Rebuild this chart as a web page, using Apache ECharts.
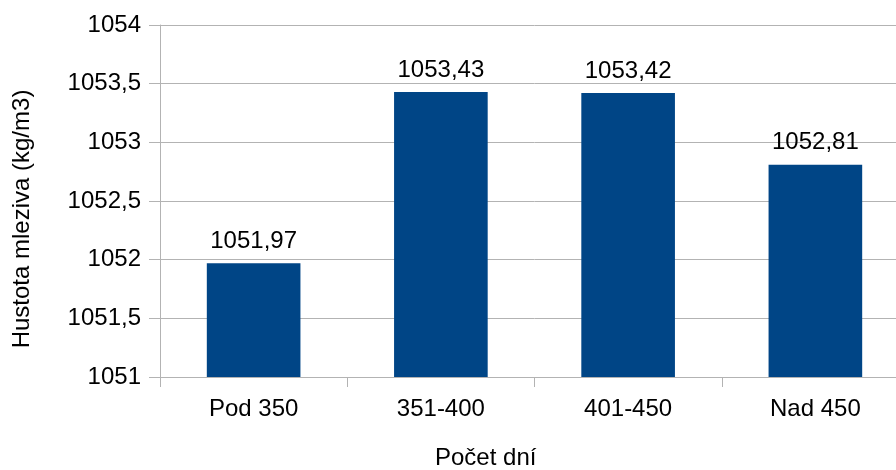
<!DOCTYPE html>
<html>
<head>
<meta charset="utf-8">
<script src="https://cdn.jsdelivr.net/npm/echarts@6/dist/echarts.min.js"></script>
<style>
  html, body { margin: 0; padding: 0; background: #fff; overflow: hidden; }
  #chart { width: 912px; height: 470px; }
</style>
</head>
<body>
<div id="chart"></div>
<script>
// Milk density by number of days
const categories = ['Pod 350', '351-400', '401-450', 'Nad 450'];
const density = [1051.97, 1053.43, 1053.42, 1052.81];
const yMin = 1051;
const yMax = 1054;
const yStep = 0.5;
const xTitle = 'Počet dní';
const yTitle = 'Hustota mleziva (kg/m3)';

const font = '"Liberation Sans", Arial, sans-serif';
const gray = '#b3b3b3';
const comma = v => String(v).replace('.', ',');

// The plot runs slightly past the right edge of the visible 896px window
const chart = echarts.init(document.getElementById('chart'), null, { renderer: 'canvas' });
chart.setOption({
  animation: false,
  backgroundColor: '#ffffff',
  grid: { left: 160, top: 25, bottom: 93, width: 749, containLabel: false },
  xAxis: {
    type: 'category',
    data: categories,
    boundaryGap: true,
    axisLine: { show: true, lineStyle: { color: gray, width: 1 } },
    axisTick: { show: true, length: 10, lineStyle: { color: gray } },
    axisLabel: { color: '#000', fontFamily: font, fontSize: 24, margin: 20 }
  },
  yAxis: {
    type: 'value',
    min: yMin,
    max: yMax,
    interval: yStep,
    axisLine: { show: true, lineStyle: { color: gray, width: 1 } },
    axisTick: { show: true, length: 11, lineStyle: { color: gray } },
    splitLine: { show: true, lineStyle: { color: gray, width: 1 } },
    axisLabel: { color: '#000', fontFamily: font, fontSize: 24, margin: 19, formatter: v => comma(v) }
  },
  graphic: [
    {
      type: 'text',
      left: 435, top: 446,
      style: { text: xTitle, fill: '#000', font: '24px ' + font }
    },
    {
      type: 'text',
      x: 10, y: 219,
      rotation: Math.PI / 2,
      style: { text: yTitle, fill: '#000', font: '24px ' + font, textAlign: 'center', textVerticalAlign: 'top' }
    }
  ],
  series: [{
    type: 'bar',
    data: density,
    barWidth: '50%',
    itemStyle: { color: '#004586' },
    label: {
      show: true,
      position: 'top',
      distance: 10,
      color: '#000',
      fontFamily: font,
      fontSize: 24,
      formatter: p => p.value.toFixed(2).replace('.', ',')
    }
  }]
});
</script>
</body>
</html>
